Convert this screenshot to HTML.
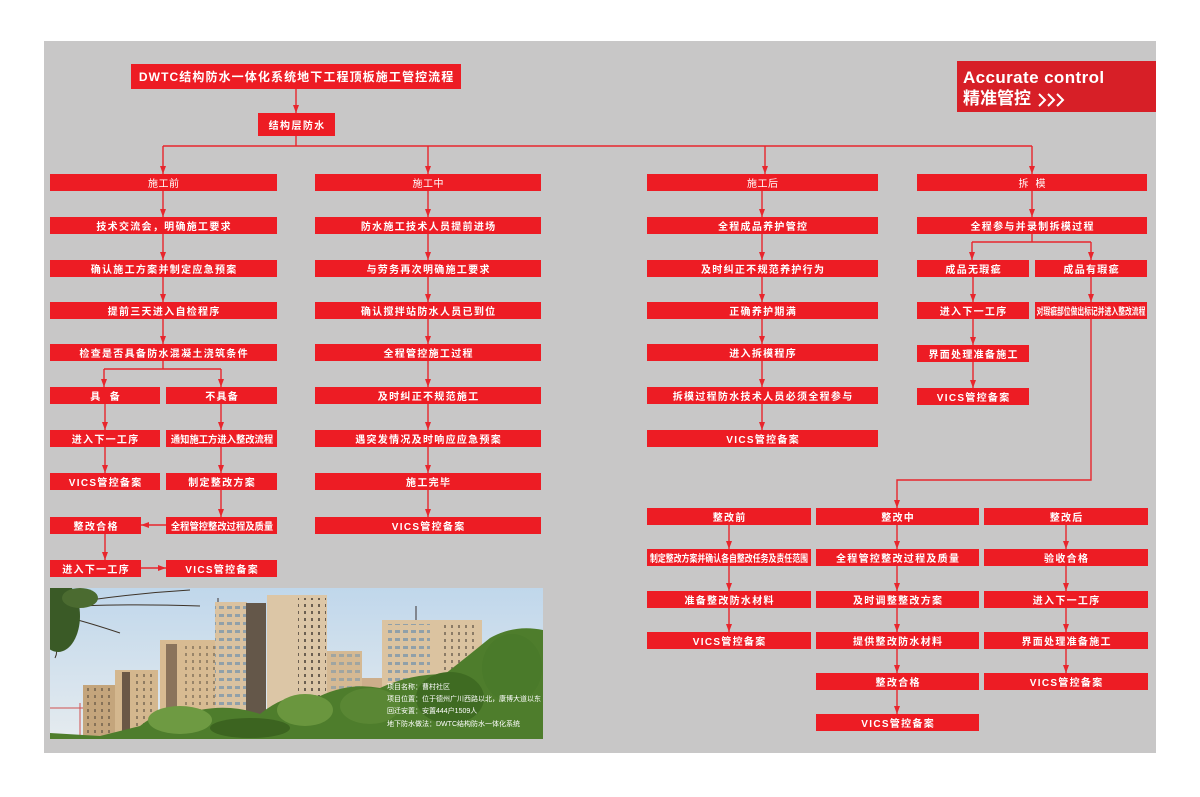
<!DOCTYPE html>
<html><head><meta charset="utf-8">
<style>
*{margin:0;padding:0;box-sizing:border-box}
html,body{width:1200px;height:797px;background:#fff;overflow:hidden}
body{position:relative;font-family:"Liberation Sans","Noto Sans CJK SC",sans-serif}
#panel{position:absolute;left:44px;top:41px;width:1112px;height:712px;background:#c8c7c7}
#lines{position:absolute;left:0;top:0}
.b{position:absolute;height:17px;background:#ed1c24;color:#fff;font-size:10px;font-weight:bold;letter-spacing:1.3px;padding-left:1.3px;white-space:nowrap;display:flex;align-items:center;justify-content:center;overflow:visible}
.h{letter-spacing:0.5px;padding-left:0.5px;font-weight:normal}
.c{display:inline-block;letter-spacing:0}
</style></head><body>
<div id="panel"></div>

<svg id="lines" width="1200" height="797" viewBox="0 0 1200 797">
<g fill="none" stroke="#e8262d" stroke-width="1.4">
<path d="M296 89V113 M296 136V146 M163 146H1032 M163 146V174 M428 146V174 M765 146V174 M1032 146V174
M163 191V369 M104 369H221 M104 369V387 M221 369V517 M105 404V473 M166 525H141 M105 534V560 M141 568H166
M428 191V517 M762 191V430
M1032 191V242 M972 242H1091 M972 242V260 M1091 242V302 M973 277V388 M1091 319V480H897V508
M729 525V632 M897 525V714 M1066 525V673"/>
</g>
<g fill="#e8262d">
<polygon points="293,105 299,105 296,113"/>
<polygon points="160,166 166,166 163,174"/>
<polygon points="425,166 431,166 428,174"/>
<polygon points="762,166 768,166 765,174"/>
<polygon points="1029,166 1035,166 1032,174"/>
<polygon points="160,209 166,209 163,217"/>
<polygon points="160,252 166,252 163,260"/>
<polygon points="160,294 166,294 163,302"/>
<polygon points="160,336 166,336 163,344"/>
<polygon points="101,379 107,379 104,387"/>
<polygon points="218,379 224,379 221,387"/>
<polygon points="102,422 108,422 105,430"/>
<polygon points="102,465 108,465 105,473"/>
<polygon points="218,422 224,422 221,430"/>
<polygon points="218,465 224,465 221,473"/>
<polygon points="218,509 224,509 221,517"/>
<polygon points="141,525 149,522 149,528"/>
<polygon points="102,552 108,552 105,560"/>
<polygon points="166,568 158,565 158,571"/>
<polygon points="425,209 431,209 428,217"/>
<polygon points="425,252 431,252 428,260"/>
<polygon points="425,294 431,294 428,302"/>
<polygon points="425,336 431,336 428,344"/>
<polygon points="425,379 431,379 428,387"/>
<polygon points="425,422 431,422 428,430"/>
<polygon points="425,465 431,465 428,473"/>
<polygon points="425,509 431,509 428,517"/>
<polygon points="759,209 765,209 762,217"/>
<polygon points="759,252 765,252 762,260"/>
<polygon points="759,294 765,294 762,302"/>
<polygon points="759,336 765,336 762,344"/>
<polygon points="759,379 765,379 762,387"/>
<polygon points="759,422 765,422 762,430"/>
<polygon points="1029,209 1035,209 1032,217"/>
<polygon points="969,252 975,252 972,260"/>
<polygon points="1088,252 1094,252 1091,260"/>
<polygon points="970,294 976,294 973,302"/>
<polygon points="970,337 976,337 973,345"/>
<polygon points="970,380 976,380 973,388"/>
<polygon points="1088,294 1094,294 1091,302"/>
<polygon points="894,500 900,500 897,508"/>
<polygon points="726,541 732,541 729,549"/>
<polygon points="726,583 732,583 729,591"/>
<polygon points="726,624 732,624 729,632"/>
<polygon points="894,541 900,541 897,549"/>
<polygon points="894,583 900,583 897,591"/>
<polygon points="894,624 900,624 897,632"/>
<polygon points="894,665 900,665 897,673"/>
<polygon points="894,706 900,706 897,714"/>
<polygon points="1063,541 1069,541 1066,549"/>
<polygon points="1063,583 1069,583 1066,591"/>
<polygon points="1063,624 1069,624 1066,632"/>
<polygon points="1063,665 1069,665 1066,673"/>
</g>
</svg>

<!-- title -->
<div class="b" style="left:131px;top:64px;width:330px;height:25px;font-size:12px;letter-spacing:1.1px">DWTC结构防水一体化系统地下工程顶板施工管控流程</div>
<div class="b" style="left:258px;top:113px;width:77px;height:23px;letter-spacing:1.4px">结构层防水</div>

<!-- Accurate control -->
<div style="position:absolute;left:957px;top:61px;width:199px;height:51px;background:#d71f27">
  <div style="position:absolute;left:6px;top:7px;font:bold 17px 'Liberation Sans',sans-serif;letter-spacing:0.4px;color:#fff;line-height:20px;white-space:nowrap">Accurate control</div>
  <div style="position:absolute;left:6px;top:28px;font-family:'Liberation Sans','Noto Sans CJK SC',sans-serif;font-weight:bold;font-size:17px;color:#fff;line-height:20px;white-space:nowrap">精准管控</div>
  <svg style="position:absolute;left:80px;top:32px" width="30" height="14" viewBox="0 0 30 14">
    <g fill="none" stroke="#fff" stroke-width="2">
      <polyline points="2,1 8,7 2,13"/><polyline points="11,1 17,7 11,13"/><polyline points="20,1 26,7 20,13"/>
    </g>
  </svg>
</div>

<!-- Column A -->
<div class="b h" style="left:50px;top:174px;width:227px">施工前</div>
<div class="b" style="left:50px;top:217px;width:227px">技术交流会，明确施工要求</div>
<div class="b" style="left:50px;top:260px;width:227px">确认施工方案并制定应急预案</div>
<div class="b" style="left:50px;top:302px;width:227px">提前三天进入自检程序</div>
<div class="b" style="left:50px;top:344px;width:227px">检查是否具备防水混凝土浇筑条件</div>
<div class="b" style="left:50px;top:387px;width:110px">具&nbsp;&nbsp;备</div>
<div class="b" style="left:166px;top:387px;width:111px">不具备</div>
<div class="b" style="left:50px;top:430px;width:110px">进入下一工序</div>
<div class="b" style="left:166px;top:430px;width:111px;letter-spacing:0;padding:0"><span class="c" style="transform:scaleX(0.93)">通知施工方进入整改流程</span></div>
<div class="b" style="left:50px;top:473px;width:110px">VICS管控备案</div>
<div class="b" style="left:166px;top:473px;width:111px">制定整改方案</div>
<div class="b" style="left:50px;top:517px;width:91px">整改合格</div>
<div class="b" style="left:166px;top:517px;width:111px;letter-spacing:0;padding:0"><span class="c" style="transform:scaleX(0.93)">全程管控整改过程及质量</span></div>
<div class="b" style="left:50px;top:560px;width:91px">进入下一工序</div>
<div class="b" style="left:166px;top:560px;width:111px">VICS管控备案</div>

<!-- Column B -->
<div class="b h" style="left:315px;top:174px;width:226px">施工中</div>
<div class="b" style="left:315px;top:217px;width:226px">防水施工技术人员提前进场</div>
<div class="b" style="left:315px;top:260px;width:226px">与劳务再次明确施工要求</div>
<div class="b" style="left:315px;top:302px;width:226px">确认搅拌站防水人员已到位</div>
<div class="b" style="left:315px;top:344px;width:226px">全程管控施工过程</div>
<div class="b" style="left:315px;top:387px;width:226px">及时纠正不规范施工</div>
<div class="b" style="left:315px;top:430px;width:226px">遇突发情况及时响应应急预案</div>
<div class="b" style="left:315px;top:473px;width:226px">施工完毕</div>
<div class="b" style="left:315px;top:517px;width:226px">VICS管控备案</div>

<!-- Column C -->
<div class="b h" style="left:647px;top:174px;width:231px">施工后</div>
<div class="b" style="left:647px;top:217px;width:231px">全程成品养护管控</div>
<div class="b" style="left:647px;top:260px;width:231px">及时纠正不规范养护行为</div>
<div class="b" style="left:647px;top:302px;width:231px">正确养护期满</div>
<div class="b" style="left:647px;top:344px;width:231px">进入拆模程序</div>
<div class="b" style="left:647px;top:387px;width:231px">拆模过程防水技术人员必须全程参与</div>
<div class="b" style="left:647px;top:430px;width:231px">VICS管控备案</div>

<!-- Column D -->
<div class="b h" style="left:917px;top:174px;width:230px">拆&nbsp;&nbsp;模</div>
<div class="b" style="left:917px;top:217px;width:230px">全程参与并录制拆模过程</div>
<div class="b" style="left:917px;top:260px;width:112px">成品无瑕疵</div>
<div class="b" style="left:1035px;top:260px;width:112px">成品有瑕疵</div>
<div class="b" style="left:917px;top:302px;width:112px">进入下一工序</div>
<div class="b" style="left:1035px;top:302px;width:112px;letter-spacing:0;padding:0"><span class="c" style="transform:scaleX(0.68)">对瑕疵部位做出标记并进入整改流程</span></div>
<div class="b" style="left:917px;top:345px;width:112px">界面处理准备施工</div>
<div class="b" style="left:917px;top:388px;width:112px">VICS管控备案</div>

<!-- Bottom: 整改前 -->
<div class="b" style="left:647px;top:508px;width:164px">整改前</div>
<div class="b" style="left:647px;top:549px;width:164px;letter-spacing:0;padding:0"><span class="c" style="transform:scaleX(0.79)">制定整改方案并确认各自整改任务及责任范围</span></div>
<div class="b" style="left:647px;top:591px;width:164px">准备整改防水材料</div>
<div class="b" style="left:647px;top:632px;width:164px">VICS管控备案</div>
<!-- 整改中 -->
<div class="b" style="left:816px;top:508px;width:163px">整改中</div>
<div class="b" style="left:816px;top:549px;width:163px">全程管控整改过程及质量</div>
<div class="b" style="left:816px;top:591px;width:163px">及时调整整改方案</div>
<div class="b" style="left:816px;top:632px;width:163px">提供整改防水材料</div>
<div class="b" style="left:816px;top:673px;width:163px">整改合格</div>
<div class="b" style="left:816px;top:714px;width:163px">VICS管控备案</div>
<!-- 整改后 -->
<div class="b" style="left:984px;top:508px;width:164px">整改后</div>
<div class="b" style="left:984px;top:549px;width:164px">验收合格</div>
<div class="b" style="left:984px;top:591px;width:164px">进入下一工序</div>
<div class="b" style="left:984px;top:632px;width:164px">界面处理准备施工</div>
<div class="b" style="left:984px;top:673px;width:164px">VICS管控备案</div>

<!-- Photo -->
<svg style="position:absolute;left:50px;top:588px" width="493" height="151" viewBox="0 0 493 151">
<defs>
<linearGradient id="sky" x1="0" y1="0" x2="0" y2="1"><stop offset="0" stop-color="#c0d7eb"/><stop offset="1" stop-color="#e5ebef"/></linearGradient>
<pattern id="win" width="7" height="7" patternUnits="userSpaceOnUse"><rect x="2" y="2" width="2" height="3" fill="#3a332c"/></pattern>
<pattern id="win2" width="8" height="8" patternUnits="userSpaceOnUse"><rect x="1" y="2" width="5" height="3" fill="#7d97ab"/></pattern>
</defs>
<rect width="493" height="151" fill="url(#sky)"/>
<!-- cranes -->
<path d="M0 120 H40 M30 115 V150" stroke="#d05050" stroke-width="1" fill="none"/>
<path d="M168 10 V60 M366 18 V40" stroke="#6a6a70" stroke-width="1.5" fill="none"/>
<!-- buildings -->
<rect x="33" y="97" width="32" height="54" fill="#c4a57c"/>
<rect x="33" y="97" width="32" height="54" fill="url(#win)" opacity="0.45"/>
<rect x="65" y="82" width="43" height="69" fill="#d4b78e"/>
<rect x="72" y="84" width="8" height="67" fill="#6a5746"/>
<rect x="84" y="84" width="22" height="67" fill="url(#win)" opacity="0.45"/>
<rect x="110" y="52" width="62" height="99" fill="#d8bb92"/>
<rect x="116" y="56" width="11" height="95" fill="#8a735b"/>
<rect x="130" y="56" width="40" height="95" fill="url(#win)" opacity="0.4"/>
<rect x="165" y="14" width="32" height="137" fill="#dac2a0"/>
<rect x="165" y="14" width="32" height="137" fill="url(#win2)" opacity="0.8"/>
<rect x="196" y="15" width="20" height="136" fill="#645749"/>
<rect x="217" y="7" width="60" height="144" fill="#dcc6a6"/>
<rect x="248" y="10" width="28" height="141" fill="url(#win)" opacity="0.7"/>
<rect x="277" y="63" width="35" height="88" fill="#d5b993"/>
<rect x="280" y="66" width="30" height="85" fill="url(#win2)" opacity="0.6"/>
<rect x="312" y="90" width="20" height="61" fill="#cdae8b"/>
<rect x="332" y="32" width="100" height="119" fill="#dbc3a0"/>
<rect x="338" y="36" width="42" height="115" fill="url(#win2)" opacity="0.8"/>
<rect x="392" y="36" width="36" height="115" fill="url(#win)" opacity="0.5"/>
<!-- top-left tree -->
<g stroke="#3d3328" stroke-width="1" fill="none">
<path d="M0 20 Q60 15 150 18 M20 30 Q40 35 70 45 M40 12 Q90 5 140 2 M0 50 Q10 60 5 70"/>
</g>
<ellipse cx="8" cy="28" rx="22" ry="36" fill="#3a5a26"/>
<ellipse cx="30" cy="10" rx="18" ry="10" fill="#4b6b30"/>
<!-- trees -->
<path d="M0 151 L0 145 L50 148 L90 138 Q120 114 150 122 Q180 116 210 126 Q240 102 270 108 Q300 94 330 100 Q360 86 395 86 Q418 68 440 50 Q465 36 493 42 L493 151 Z" fill="#4e7d2c"/>
<ellipse cx="130" cy="132" rx="32" ry="14" fill="#6e9a42"/>
<ellipse cx="255" cy="122" rx="28" ry="16" fill="#6a963e"/>
<ellipse cx="320" cy="118" rx="30" ry="18" fill="#5a8734"/>
<ellipse cx="400" cy="110" rx="34" ry="26" fill="#3f6b22"/>
<ellipse cx="462" cy="80" rx="30" ry="34" fill="#4a7a2a"/>
<ellipse cx="200" cy="140" rx="40" ry="10" fill="#3c6420"/>
<!-- caption -->
<g fill="#fff" font-size="7" font-family="Liberation Sans, Noto Sans CJK SC, sans-serif">
<text x="337" y="101">项目名称：曹村社区</text>
<text x="337" y="113">项目位置：位于德州广川西路以北，康博大道以东</text>
<text x="337" y="125">回迁安置：安置444户1509人</text>
<text x="337" y="138">地下防水做法：DWTC结构防水一体化系统</text>
</g>
</svg>
</body></html>
